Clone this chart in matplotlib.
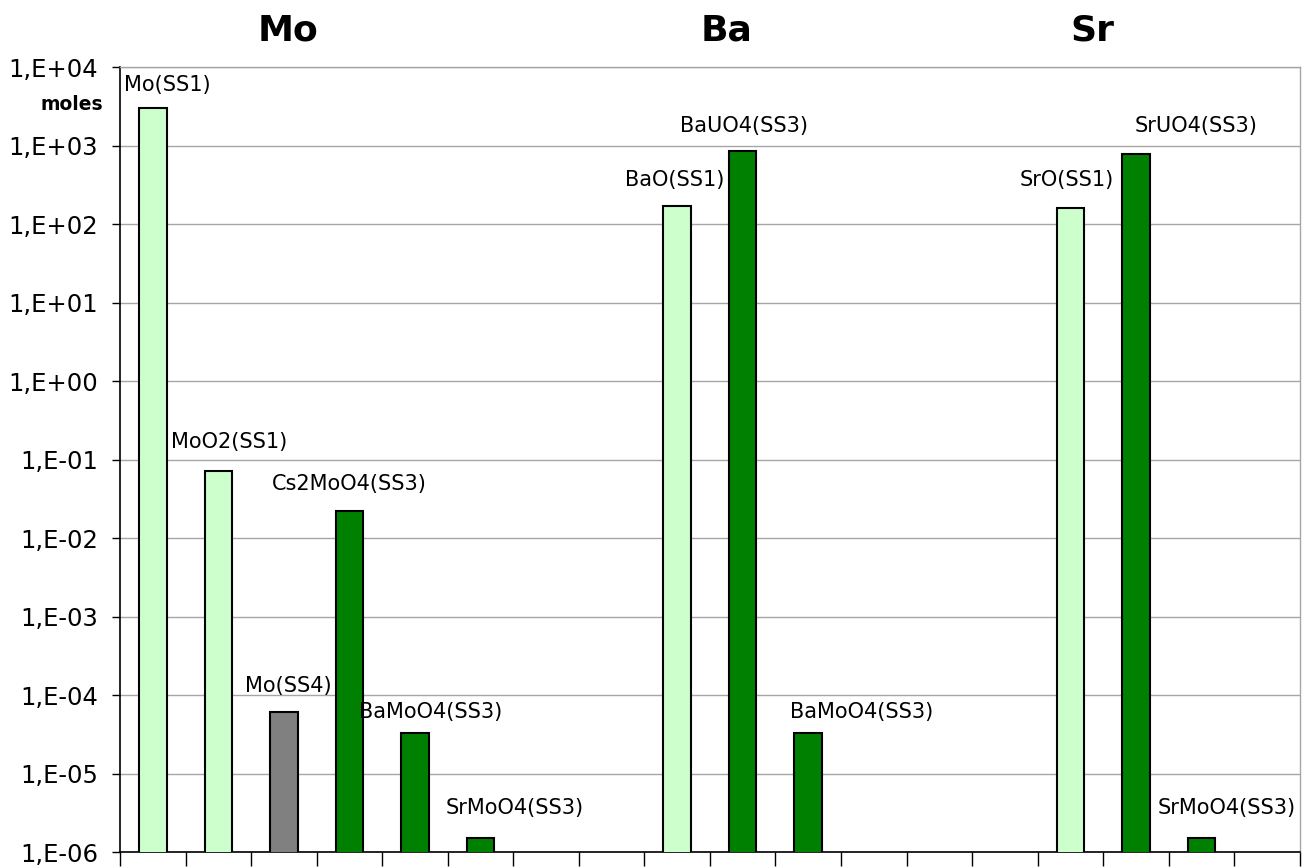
import numpy as np
import matplotlib.pyplot as plt
from matplotlib.transforms import blended_transform_factory

############### DATA ###############

labels = ["Mo(SS1)", "MoO2(SS1)", "Mo(SS4)", "Cs2MoO4(SS3)", "BaMoO4(SS3)", "SrMoO4(SS3)",
          "BaO(SS1)", "BaUO4(SS3)", "BaMoO4(SS3)",
          "SrO(SS1)", "SrUO4(SS3)", "SrMoO4(SS3)"]
slots = [0, 1, 2, 3, 4, 5, 8, 9, 10, 14, 15, 16]
values = [3.0e3, 7.1e-2, 6.1e-5, 2.2e-2, 3.3e-5, 1.5e-6,
          1.7e2, 8.5e2, 3.3e-5,
          1.6e2, 7.8e2, 1.5e-6]
phase = ["SS1", "SS1", "SS4", "SS3", "SS3", "SS3",
         "SS1", "SS3", "SS3",
         "SS1", "SS3", "SS3"]
n_slots = 18
groups = ["Mo", "Ba", "Sr"]
group_x = [2.06, 8.76, 14.34]
ytick_vals = [1e-6, 1e-5, 1e-4, 1e-3, 1e-2, 1e-1, 1e0, 1e1, 1e2, 1e3, 1e4]
ytick_labels = ["1,E-06", "1,E-05", "1,E-04", "1,E-03", "1,E-02", "1,E-01",
                "1,E+00", "1,E+01", "1,E+02", "1,E+03", "1,E+04"]

####################################

colors = {"SS1": "#ccffcc", "SS3": "#008000", "SS4": "#808080"}
# label offsets in pixels (dx, dy) from bar top
label_off = [(15, 23), (11, 29), (4, 26), (0, 27), (16, 21), (34, 30),
             (-2, 26), (1, 25), (53, 21),
             (-4, 28), (60, 28), (25, 30)]

fig = plt.figure(figsize=(13.09, 8.67), dpi=100)
ax = fig.add_axes([0.0917, 0.0173, 0.9013, 0.9054])

ax.set_yscale("log")
ax.bar(slots, values, width=0.42,
       color=[colors[p] for p in phase], edgecolor="black", linewidth=1.5, zorder=3)

ax.set_ylim(1e-6, 1e4)
ax.set_xlim(-0.5, n_slots - 0.5)
ax.set_yticks(ytick_vals)
ax.set_yticklabels(ytick_labels, fontsize=17.5)
ax.yaxis.set_minor_locator(plt.NullLocator())
ax.set_xticks(np.arange(-0.5, n_slots, 1))
ax.set_xticklabels([])
ax.tick_params(axis="y", length=6, width=1, pad=10)
ax.tick_params(axis="x", length=10, width=1)
ax.yaxis.grid(color="#a6a6a6", linewidth=1, zorder=0)

for side in ["top", "right"]:
    ax.spines[side].set_color("#a6a6a6")
    ax.spines[side].set_linewidth(1)
for side in ["left", "bottom"]:
    ax.spines[side].set_color("black")
    ax.spines[side].set_linewidth(1.2)

for x, v, lab, off in zip(slots, values, labels, label_off):
    ax.annotate(lab, xy=(x, v), xytext=off, textcoords="offset pixels",
                ha="center", va="center", fontsize=15, zorder=4)

trans = blended_transform_factory(ax.transData, fig.transFigure)
for g, gx in zip(groups, group_x):
    ax.text(gx, 0.965, g, transform=trans, ha="center", va="center",
            fontsize=26, fontweight="bold")

fig.text(0.055, 0.879, "moles", ha="center", va="center", fontsize=13.5, fontweight="bold")

plt.savefig("out.png", dpi=100)
